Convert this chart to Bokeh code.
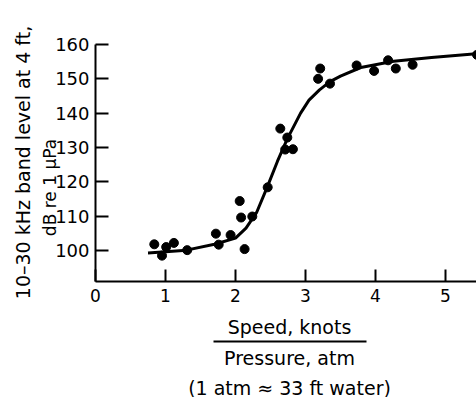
import math
from bokeh.plotting import figure
from bokeh.models import Range1d, Label, FixedTicker, Arrow, LinearAxis
from bokeh.embed import file_html
from bokeh.resources import INLINE

# Measured data points
pts_x = [0.84, 0.95, 1.01, 1.12, 1.31, 1.72, 1.76, 1.93, 2.06, 2.08, 2.13, 2.24,
         2.46, 2.64, 2.74, 2.71, 2.82, 3.21, 3.18, 3.35, 3.73, 3.98, 4.18, 4.29,
         4.53, 5.45]
pts_y = [101.8, 98.5, 101.0, 102.2, 100.1, 104.9, 101.7, 104.5, 114.4, 109.6,
         100.4, 109.9, 118.4, 135.5, 132.9, 129.4, 129.5, 153.0, 150.0, 148.6,
         153.9, 152.3, 155.4, 153.0, 154.1, 157.0]

# Fitted curve
curve_x = [0.75, 1.0, 1.3, 1.7, 2.0, 2.15, 2.3, 2.45, 2.6, 2.74, 2.93, 3.05,
           3.2, 3.35, 3.5, 3.79, 4.26, 4.8, 5.31, 5.45]
curve_y = [99.3, 99.6, 100.1, 101.8, 103.6, 106.5, 111.0, 118.3, 126.0, 132.5,
           140.0, 143.8, 146.8, 149.2, 150.8, 153.3, 155.1, 156.2, 157.1, 157.3]

x_ticks = [0, 1, 2, 3, 4, 5]
y_ticks = [100, 110, 120, 130, 140, 150, 160]

FONT = "DejaVu Sans"

# pixel geometry helpers (frame covers the whole canvas)
X0_PX, X_SCALE = 95.0, 70.0        # px of x=0, px per unit
Y160_PX, Y_SCALE = 44.0, 3.433     # px of y=160, px per unit
W, H = 476, 397

def dx(px):
    return (px - X0_PX) / X_SCALE

def dy(py):
    return 160 - (py - Y160_PX) / Y_SCALE

X_AXIS_Y = dy(281)

p = figure(width=W, height=H, output_backend="svg", toolbar_location=None,
           x_range=Range1d(dx(0), dx(W)), y_range=Range1d(dy(H), dy(0)),
           x_axis_location=None, y_axis_location=None,
           min_border=0)
p.outline_line_color = None
p.grid.visible = False
p.background_fill_color = "white"
p.border_fill_color = "white"

xax = LinearAxis(ticker=FixedTicker(ticks=x_ticks), fixed_location=X_AXIS_Y,
                 bounds=(0, dx(W)))
yax = LinearAxis(ticker=FixedTicker(ticks=y_ticks), fixed_location=0,
                 bounds=(X_AXIS_Y, 160))
p.add_layout(xax, "below")
p.add_layout(yax, "left")

for ax in (xax, yax):
    ax.axis_line_width = 2
    ax.axis_line_color = "black"
    ax.major_tick_line_width = 2
    ax.major_tick_line_color = "black"
    ax.major_tick_out = 0
    ax.minor_tick_line_color = None
    ax.major_label_text_font = FONT
    ax.major_label_text_color = "black"

xax.major_tick_in = 12
xax.major_label_text_font_size = "17px"
xax.major_label_standoff = 7

yax.major_tick_in = 13
yax.major_label_text_font_size = "18px"
yax.major_label_standoff = 6

p.line(curve_x, curve_y, line_width=3, line_color="black")
p.scatter(pts_x, pts_y, size=9, color="black")

def lab(text, x, y, size="17px", angle=0.0):
    p.add_layout(Label(x=x, y=y, text=text, text_font=FONT, text_font_size=size,
                       text_align="center", text_baseline="middle",
                       text_color="black", angle=angle))

lab("Speed, knots", dx(289), dy(326), "19px")
lab("Pressure, atm", dx(289), dy(357), "19px")
lab("(1 atm \u2248 33 ft water)", dx(289), dy(387), "19px")
p.add_layout(Arrow(x_start=dx(213), x_end=dx(366), y_start=dy(341), y_end=dy(341),
                   start=None, end=None, line_width=2, line_color="black"))
lab("10\u201330 kHz band level at 4 ft,", dx(22), dy(162), "19px", math.pi / 2)
lab("dB re 1 \u03bcPa", dx(49), dy(187), "17px", math.pi / 2)

open("out.html", "w").write(file_html(p, INLINE))
